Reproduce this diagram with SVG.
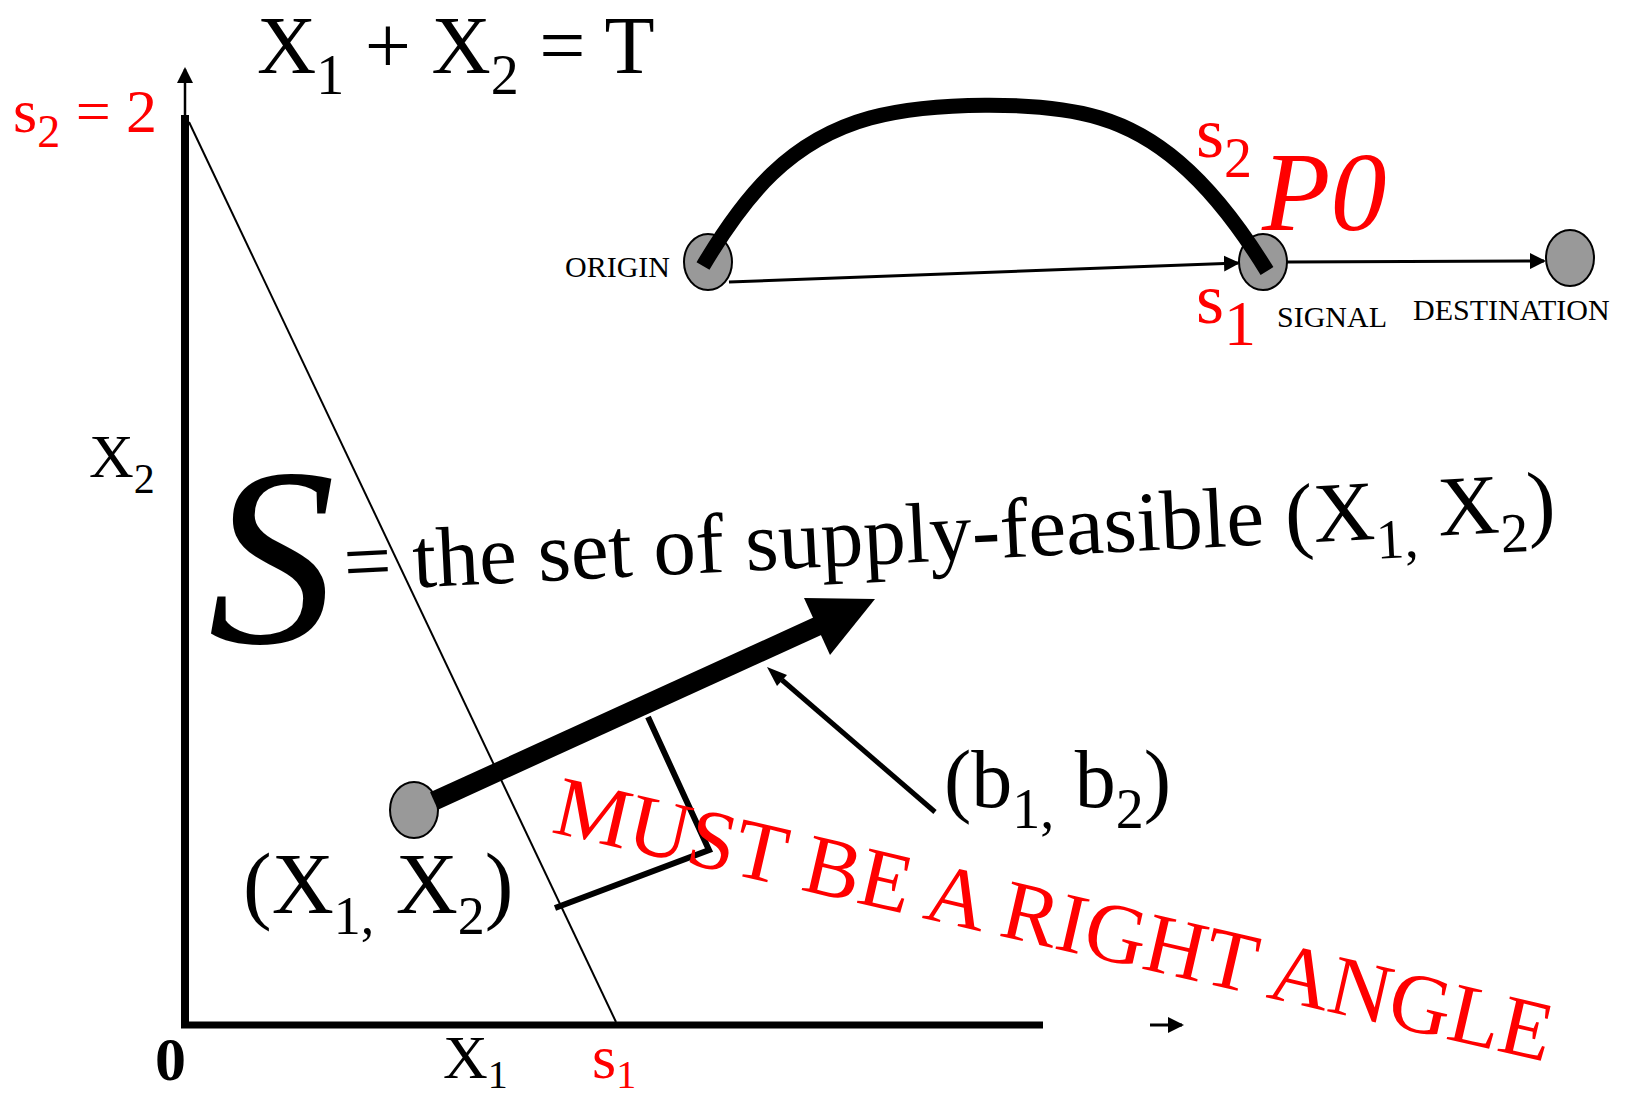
<svg xmlns="http://www.w3.org/2000/svg" width="1640" height="1097" viewBox="0 0 1640 1097">
<style>
text{font-family:"Liberation Serif","Times New Roman",serif;fill:#000}
.red{fill:#ff0000}
.dot{fill:#999999;stroke:#000;stroke-width:2}
.thin{stroke:#000;stroke-width:3;fill:none}
</style>
<defs>
<marker id="ah" viewBox="0 0 16 16" refX="14" refY="8" markerWidth="16" markerHeight="16" markerUnits="userSpaceOnUse" orient="auto">
<path d="M0,0 L16,8 L0,16 z" fill="#000"/>
</marker>
</defs>
<rect width="1640" height="1097" fill="#fff"/>

<g id="axes">
<line x1="185" y1="116" x2="185" y2="69" stroke="#000" stroke-width="2.5" marker-end="url(#ah)"/>
<line x1="185" y1="115" x2="185" y2="1028" stroke="#000" stroke-width="8"/>
<line x1="181" y1="1025" x2="1043" y2="1025" stroke="#000" stroke-width="7"/>
<line x1="1150" y1="1025" x2="1182" y2="1025" stroke="#000" stroke-width="3" marker-end="url(#ah)"/>
<line x1="189" y1="122" x2="616" y2="1022" stroke="#000" stroke-width="2"/>
</g>

<g id="origin">
<ellipse class="dot" cx="708" cy="262" rx="24" ry="28"/>
<text x="565" y="277" font-size="30">ORIGIN</text>
</g>
<g id="signal">
<ellipse class="dot" cx="1263" cy="262" rx="24" ry="28"/>
<text x="1277" y="327" font-size="30">SIGNAL</text>
</g>
<g id="destination">
<ellipse class="dot" cx="1570" cy="258" rx="24" ry="28"/>
<text x="1413" y="320" font-size="30">DESTINATION</text>
</g>
<g id="point">
<ellipse class="dot" cx="414" cy="810" rx="24" ry="28"/>
<text x="243" y="913" font-size="86">(X<tspan font-size="54" dy="21">1,</tspan><tspan dy="-21"> X</tspan><tspan font-size="54" dy="21">2</tspan><tspan dy="-21">)</tspan></text>
</g>

<g id="connectors">
<path d="M703,266 C745,195 790,140 870,118 C930,102 1040,100 1100,118 C1150,133 1205,170 1267,271" fill="none" stroke="#000" stroke-width="15"/>
<line class="thin" x1="729" y1="282" x2="1238" y2="263" marker-end="url(#ah)"/>
<line class="thin" x1="1287" y1="262" x2="1544" y2="261" marker-end="url(#ah)"/>
<line x1="434" y1="801" x2="820" y2="625" stroke="#000" stroke-width="19"/>
<polygon points="875,599 804,598 830,655" fill="#000"/>
<polyline points="648,717 709,850 555,908" fill="none" stroke="#000" stroke-width="6"/>
<line x1="935" y1="812" x2="782" y2="680" stroke="#000" stroke-width="5"/>
<polygon points="767,667 787,675 777,686" fill="#000"/>
</g>

<g id="labels">
<text x="257" y="73" font-size="82">X<tspan font-size="56" dy="21">1</tspan><tspan dy="-21"> + X</tspan><tspan font-size="56" dy="21">2</tspan><tspan dy="-21"> = T</tspan></text>
<text class="red" x="13" y="132" font-size="62">s<tspan font-size="46" dy="15">2</tspan><tspan dy="-15"> = 2</tspan></text>
<text x="89" y="477" font-size="62">X<tspan font-size="42" dy="16">2</tspan></text>
<text x="155" y="1080" font-size="62" font-weight="bold">0</text>
<text x="443" y="1078" font-size="62">X<tspan font-size="40" dy="10">1</tspan></text>
<text class="red" x="592" y="1078" font-size="62">s<tspan font-size="40" dy="10">1</tspan></text>
<text class="red" x="1196" y="157" font-size="72">s<tspan font-size="56" dy="20">2</tspan></text>
<text class="red" x="1262" y="230" font-size="112" font-style="italic">P0</text>
<text class="red" x="1196" y="323" font-size="72">s<tspan font-size="64" dy="22">1</tspan></text>
<text x="208" y="643" font-size="255" font-style="italic">S</text>
<text x="345" y="591" font-size="85" transform="rotate(-2.9 345 591)">= the set of supply-feasible (X<tspan font-size="56" dy="20">1,</tspan><tspan dy="-20"> X</tspan><tspan font-size="56" dy="20">2</tspan><tspan dy="-20">)</tspan></text>
<text x="944" y="807" font-size="82">(b<tspan font-size="56" dy="21">1,</tspan><tspan dy="-21"> b</tspan><tspan font-size="56" dy="21">2</tspan><tspan dy="-21">)</tspan></text>
<text class="red" x="550" y="832" font-size="85" transform="rotate(13 550 832)">MUST BE A RIGHT ANGLE</text>
</g>
</svg>
